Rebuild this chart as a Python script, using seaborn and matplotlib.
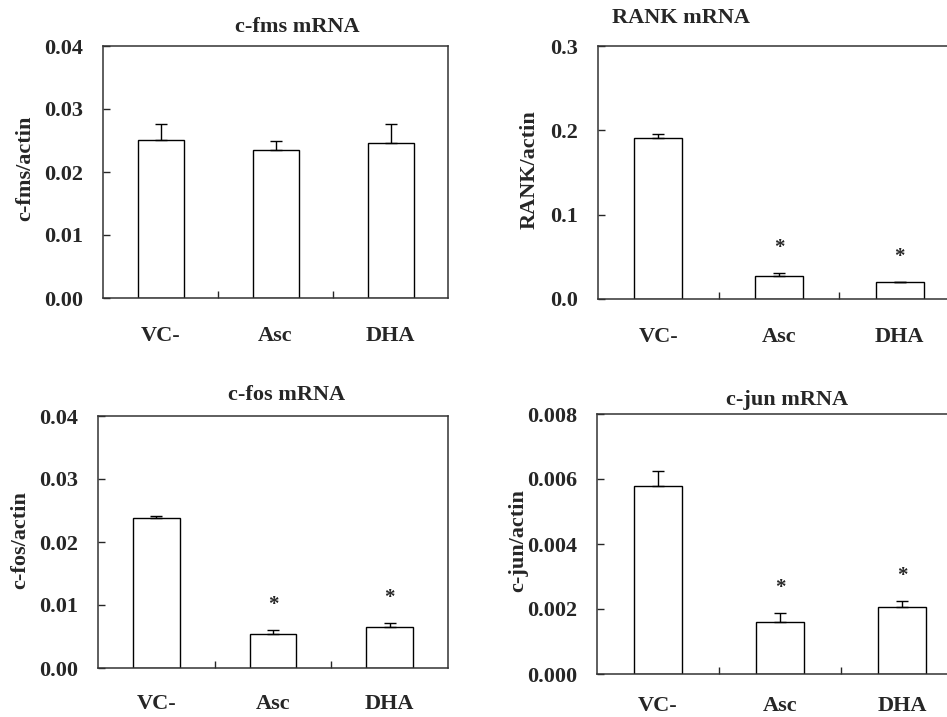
import matplotlib
matplotlib.use("Agg")
import matplotlib.pyplot as plt
import seaborn as sns
import numpy as np
import pandas as pd

sns.set_style("ticks")
plt.rcParams['font.family'] = ['Liberation Serif', 'DejaVu Serif']
plt.rcParams['font.weight'] = 'bold'

categories = ["VC-", "Asc", "DHA"]

cfms_mean = [0.0251, 0.0235, 0.0246]
cfms_err = [0.0025, 0.0014, 0.0030]
rank_mean = [0.1906, 0.0277, 0.0205]
rank_err = [0.0047, 0.0035, 0.0]
cfos_mean = [0.02375, 0.00538, 0.00643]
cfos_err = [0.00042, 0.00062, 0.00069]
cjun_mean = [0.00577, 0.00159, 0.00205]
cjun_err = [0.00047, 0.00029, 0.00020]

panels = [
    dict(title="c-fms mRNA", ylabel="c-fms/actin", mean=cfms_mean, err=cfms_err,
         yticks=[0.0, 0.01, 0.02, 0.03, 0.04], fmt="{:.2f}", star=[False, False, False],
         box=(103, 448, 46, 298), title_xy=(297, 27), ylab_xy=(25, 168), xpad=20),
    dict(title="RANK mRNA", ylabel="RANK/actin", mean=rank_mean, err=rank_err,
         yticks=[0.0, 0.1, 0.2, 0.3], fmt="{:.1f}", star=[False, True, True],
         box=(598, 960, 46, 299), title_xy=(681, 18), ylab_xy=(530, 170), xpad=20),
    dict(title="c-fos mRNA", ylabel="c-fos/actin", mean=cfos_mean, err=cfos_err,
         yticks=[0.0, 0.01, 0.02, 0.03, 0.04], fmt="{:.2f}", star=[False, True, True],
         box=(98, 448, 416, 668), title_xy=(287, 395), ylab_xy=(20, 540), xpad=19),
    dict(title="c-jun mRNA", ylabel="c-jun/actin", mean=cjun_mean, err=cjun_err,
         yticks=[0.0, 0.002, 0.004, 0.006, 0.008], fmt="{:.3f}", star=[False, True, True],
         box=(597, 963, 414, 674), title_xy=(787, 400), ylab_xy=(518, 541), xpad=16),
]

W, H = 947, 717
FS = 16
fig = plt.figure(figsize=(W / 100, H / 100), dpi=100)

for p in panels:
    l, r, t, b = p["box"]
    ax = fig.add_axes([l / W, 1 - b / H, (r - l) / W, (b - t) / H])
    df = pd.DataFrame({"group": categories, "value": p["mean"]})
    sns.barplot(data=df, x="group", y="value", ax=ax, color="white",
                edgecolor="black", linewidth=1.0, width=0.4, errorbar=None,
                saturation=1)
    x = np.arange(len(categories))
    ax.errorbar(x, p["mean"], yerr=[np.zeros(3), p["err"]], fmt="none",
                ecolor="black", elinewidth=1.0, capsize=4, capthick=1.0, zorder=5)
    for i, s in enumerate(p["star"]):
        if s:
            ax.annotate("*", (x[i], p["mean"][i] + p["err"][i]),
                        xytext=(0, 18), textcoords="offset points",
                        ha="center", va="center", fontsize=15, fontweight="bold")
    ax.set_xlim(-0.5, 2.5)
    ax.set_ylim(p["yticks"][0], p["yticks"][-1])
    ax.set_yticks(p["yticks"])
    ax.set_yticklabels([p["fmt"].format(v) for v in p["yticks"]], fontsize=FS, fontweight="bold")
    ax.set_xticks(x)
    ax.set_xticklabels(categories, fontsize=FS, fontweight="bold")
    ax.set_xticks([0.5, 1.5], minor=True)
    ax.tick_params(axis="x", which="major", length=0, pad=p["xpad"])
    ax.tick_params(axis="x", which="minor", direction="in", length=5, width=1.0)
    ax.tick_params(axis="y", direction="in", length=5, width=1.0, pad=14.5)
    ax.set_xlabel("")
    ax.set_ylabel("")
    for sp in ax.spines.values():
        sp.set_linewidth(1.1)
        sp.set_color("#333333")
        sp.set_visible(True)
    fig.text(p["title_xy"][0] / W, 1 - p["title_xy"][1] / H, p["title"],
             ha="center", va="center", fontsize=FS, fontweight="bold")
    fig.text(p["ylab_xy"][0] / W, 1 - p["ylab_xy"][1] / H, p["ylabel"],
             ha="center", va="center", rotation=90, fontsize=FS, fontweight="bold")

fig.savefig("out.png", dpi=100)
